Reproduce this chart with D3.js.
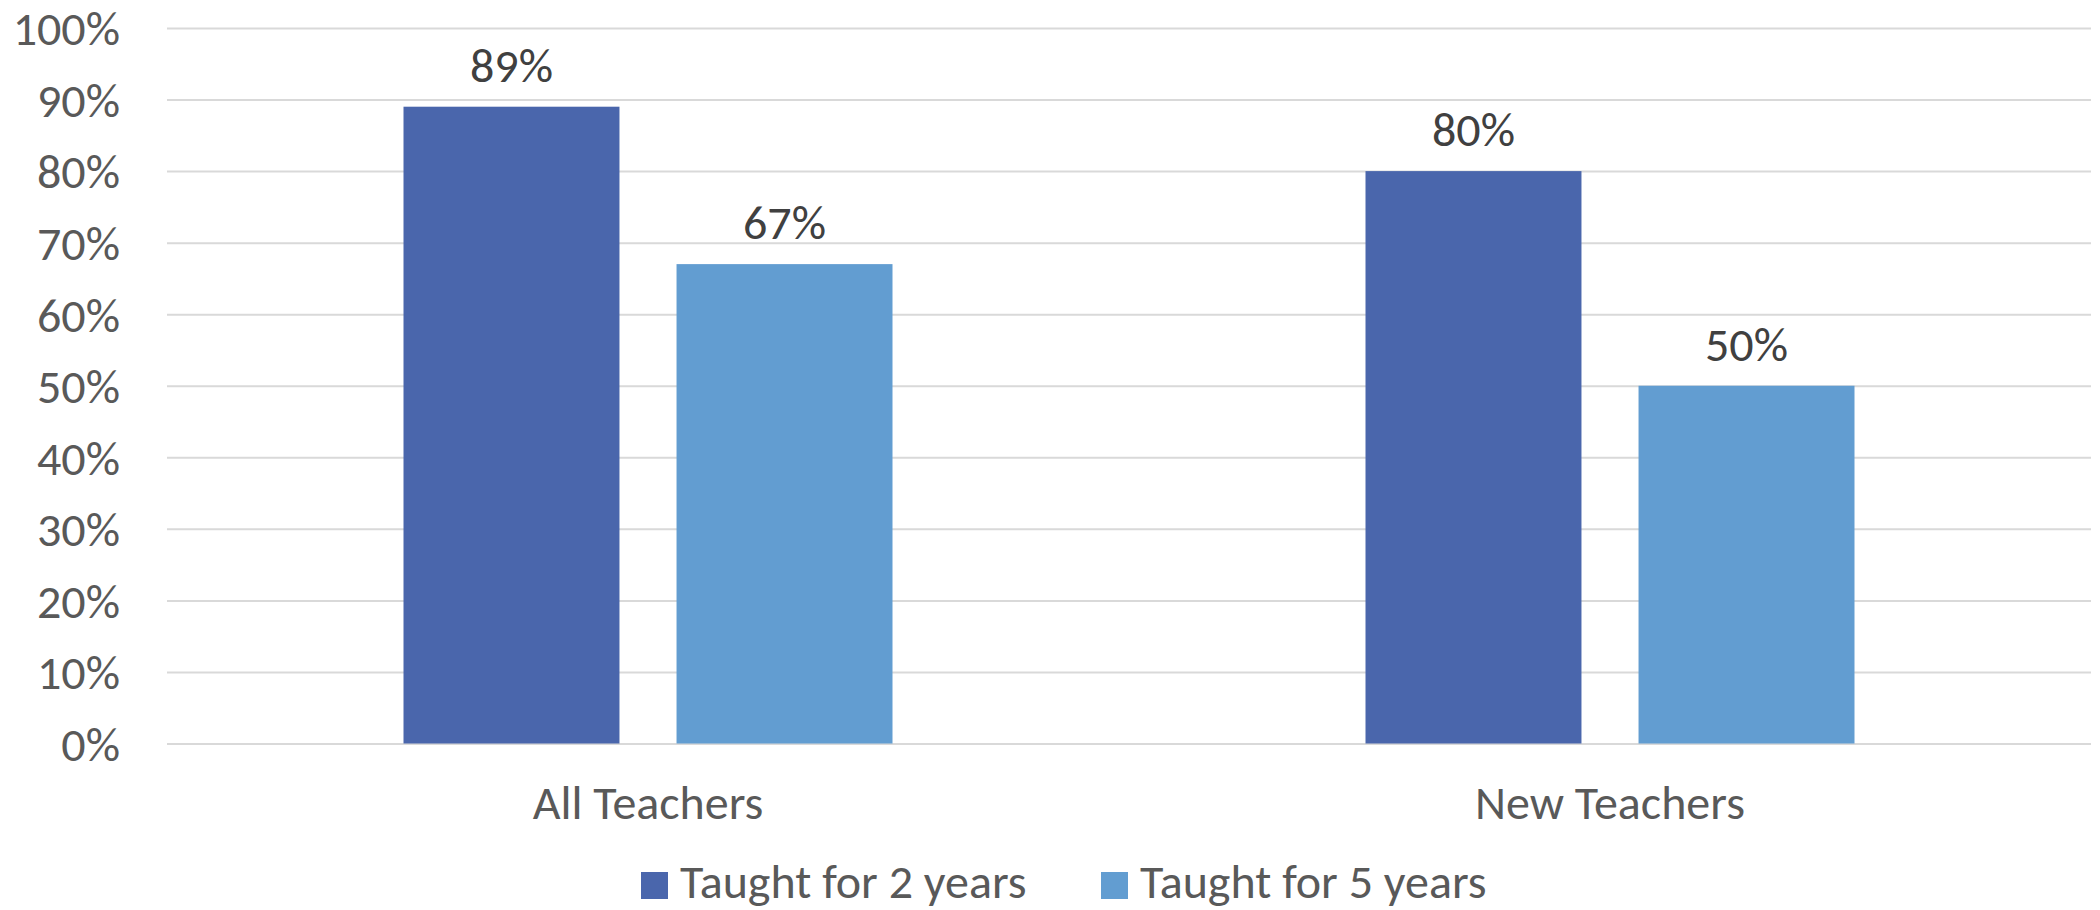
<!DOCTYPE html>
<html>
<head>
<meta charset="utf-8">
<script src="https://cdn.jsdelivr.net/npm/d3@7"></script>
<style>
  html, body { margin: 0; padding: 0; background: #fff; }
  svg { display: block; }
  text { font-family: Carlito, Lato, "Open Sans", sans-serif; }
</style>
</head>
<body>
<svg id="chart" width="2100" height="910"></svg>
<script>
const categories = ["All Teachers", "New Teachers"];
const seriesNames = ["Taught for 2 years", "Taught for 5 years"];
const taught2 = [0.89, 0.80];
const taught5 = [0.67, 0.50];
const yTicks = [0, 0.1, 0.2, 0.3, 0.4, 0.5, 0.6, 0.7, 0.8, 0.9, 1.0];
const colors = ["#4A66AC", "#629DD1"];

const seriesValues = [taught2, taught5];
const data = categories.map((c, i) => ({
  category: c,
  values: seriesNames.map((s, j) => ({ series: s, value: seriesValues[j][i], idx: j }))
}));

const svg = d3.select("#chart");
const plotLeft = 167, plotRight = 2091, plotTop = 28, plotBottom = 743.5;
const fontSize = 48;

const y = d3.scaleLinear().domain([0, 1]).range([plotBottom, plotTop]);
const x0 = d3.scaleBand().domain(categories).range([plotLeft, plotRight]).padding(0);
const groupWidth = 489;
const x1 = d3.scaleBand().domain(seriesNames).range([0, groupWidth]).paddingInner(0.209).paddingOuter(0);
const groupOffset = (x0.bandwidth() - groupWidth) / 2;

// gridlines + tick labels
const yAxis = d3.axisLeft(y).tickValues(yTicks).tickSize(-(plotRight - plotLeft)).tickFormat(d3.format(".0%"));
const gAxis = svg.append("g").attr("transform", `translate(${plotLeft},0)`).call(yAxis);
gAxis.select(".domain").remove();
gAxis.selectAll(".tick line").attr("stroke", "#D9D9D9").attr("stroke-width", 2);
gAxis.selectAll(".tick text")
  .attr("x", 120 - plotLeft)
  .attr("dy", "0.35em")
  .attr("fill", "#595959")
  .style("font-size", fontSize + "px")
  .style("font-family", "Carlito, Lato, 'Open Sans', sans-serif");

// bars
const groups = svg.append("g").selectAll("g").data(data).join("g")
  .attr("transform", d => `translate(${x0(d.category) + groupOffset},0)`);

groups.selectAll("rect").data(d => d.values).join("rect")
  .attr("x", d => x1(d.series))
  .attr("width", x1.bandwidth())
  .attr("y", d => y(d.value))
  .attr("height", d => y(0) - y(d.value))
  .attr("fill", d => colors[d.idx]);

groups.selectAll("text.lbl").data(d => d.values).join("text")
  .attr("class", "lbl")
  .attr("x", d => x1(d.series) + x1.bandwidth() / 2)
  .attr("y", d => y(d.value) - 25)
  .attr("text-anchor", "middle")
  .attr("fill", "#404040")
  .style("font-size", fontSize + "px")
  .text(d => d3.format(".0%")(d.value));

// category labels
svg.append("g").selectAll("text").data(categories).join("text")
  .attr("x", d => x0(d) + x0.bandwidth() / 2)
  .attr("y", 819)
  .attr("text-anchor", "middle")
  .attr("fill", "#595959")
  .style("font-size", fontSize + "px")
  .text(d => d);

// legend
const legendX = [641, 1101];
const legend = svg.append("g").selectAll("g").data(seriesNames).join("g")
  .attr("transform", (d, i) => `translate(${legendX[i]},872)`);
legend.append("rect").attr("width", 27).attr("height", 27).attr("fill", (d, i) => colors[i]);
legend.append("text")
  .attr("x", 39).attr("y", 26)
  .attr("fill", "#595959")
  .style("font-size", fontSize + "px")
  .text(d => d);
</script>
</body>
</html>
